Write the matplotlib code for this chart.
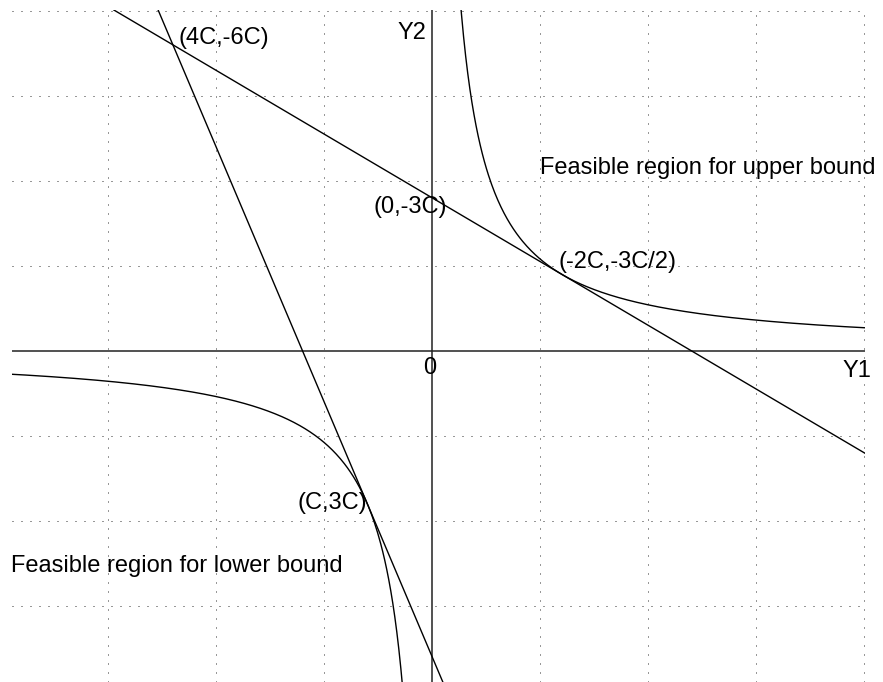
import numpy as np
import matplotlib
matplotlib.use("Agg")
import matplotlib.pyplot as plt

# ==========================
# Configuration
# ==========================
OUTPUT_FILE = "out.png"
plt.rcParams["font.family"] = ["Liberation Sans", "DejaVu Sans"]

# Scale constant C (grid units) and the hyperbola Y1 * Y2 = 3 C^2
C = 0.6
HYPER_K = 3 * C ** 2

# Labelled points, in multiples of C
point_labels = ["(4C,-6C)", "(0,-3C)", "(-2C,-3C/2)", "(C,3C)"]
point_y1 = [4, 0, -2, 1]
point_y2 = [-6, -3, -1.5, 3]

# Tangent lines, given by pairs of labelled points
shallow_line = ("(0,-3C)", "(-2C,-3C/2)")
steep_line = ("(4C,-6C)", "(C,3C)")

# Grid positions
grid_y1 = [-4, -3, -2, -1, 1, 2, 3]
grid_y2 = [-4, -3, -2, -1, 1, 2, 3]

region_upper = "Feasible region for upper bound"
region_lower = "Feasible region for lower bound"

# ==========================
# Figure
# ==========================
fig = plt.figure(figsize=(8.83, 6.82), dpi=100)
ax = fig.add_axes([12 / 883, 0, 853 / 883, 672 / 682])
ax.set_xlim(3.89, -4.01)
ax.set_ylim(3.9, -4.01)
ax.axis("off")

# Dotted grid
for g in grid_y1:
    ax.axvline(g, color="#333333", lw=0.72, linestyle=(0, (1, 8)), zorder=1)
for g in grid_y2:
    ax.axhline(g, color="#333333", lw=0.72, linestyle=(0, (1, 8)), zorder=1)

# Axes through the origin
ax.axhline(0, color="#222222", lw=1.1, zorder=2)
ax.axvline(0, color="#222222", lw=1.1, zorder=2)

# ==========================
# Lines and hyperbola
# ==========================
pts = {lab: (C * a, C * b) for lab, a, b in zip(point_labels, point_y1, point_y2)}

for p1, p2 in [shallow_line, steep_line]:
    ax.axline(pts[p1], pts[p2], color="black", lw=1.0, zorder=3)

# Both branches of Y1 * Y2 = 3 C^2
y1_upper = np.linspace(-4.1, -HYPER_K / 4.1, 400)
ax.plot(y1_upper, HYPER_K / y1_upper, color="black", lw=1.0, zorder=3)
y1_lower = np.linspace(HYPER_K / 4.0, 4.0, 400)
ax.plot(y1_lower, HYPER_K / y1_lower, color="black", lw=1.0, zorder=3)

# ==========================
# Labels
# ==========================
fs = 17
label_pos = {
    "(4C,-6C)": (2.35, -3.61),
    "(0,-3C)": (0.546, -1.62),
    "(-2C,-3C/2)": (-1.167, -0.976),
    "(C,3C)": (1.25, 1.86),
}
for lab in point_labels:
    x, y = label_pos[lab]
    ax.text(x, y, lab, fontsize=fs, ha="left", va="baseline", zorder=4)

ax.text(0.324, -3.67, "Y2", fontsize=fs, ha="left", va="baseline")
ax.text(-3.8, 0.306, "Y1", fontsize=fs, ha="left", va="baseline")
ax.text(0.083, 0.28, "0", fontsize=fs, ha="left", va="baseline")
ax.text(-1.0, -2.08, region_upper, fontsize=fs, ha="left", va="baseline")
ax.text(3.9, 2.61, region_lower, fontsize=fs, ha="left", va="baseline")

fig.savefig(OUTPUT_FILE, dpi=100, facecolor="white")
plt.close(fig)
